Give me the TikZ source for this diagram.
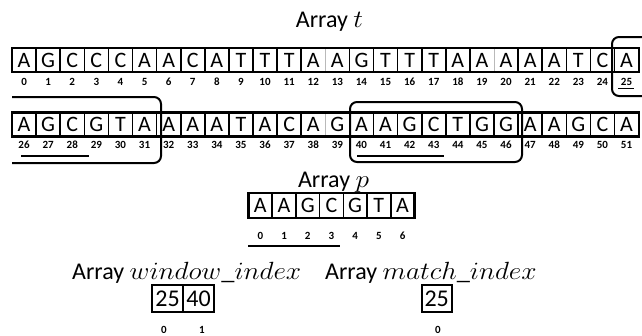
\documentclass[tikz,border=0pt]{standalone}
\usepackage{graphicx}
\usepackage{fontspec}
\setmainfont{Carlito}[Numbers=Lining]
\usetikzlibrary{calc}
\newcommand{\mvar}[1]{\scalebox{1.1}[1]{$#1$}}
\begin{document}
\begin{tikzpicture}[x=1pt,y=-1pt,
  cell/.style={draw,line width=1.6pt,minimum width=24.1pt,minimum height=24pt,inner sep=0pt,outer sep=0pt,font=\fontsize{22}{22}\selectfont},
  pcell/.style={cell,minimum width=23.7pt,minimum height=25pt},
  bcell/.style={cell,minimum width=31pt,minimum height=27pt,line width=1.8pt,font=\fontsize{24}{24}\selectfont},
  idx/.style={font=\fontsize{11}{11}\selectfont\bfseries,inner sep=0pt},
  title/.style={inner sep=0pt,anchor=base,font=\fontsize{24}{24}\selectfont},
  frame/.style={line width=2.2pt},
  win/.style={line width=2pt,rounded corners=7pt},
  uline/.style={line width=1.4pt},
  graysep/.style={gray!55,line width=0.7pt}]
\useasboundingbox (0,0) rectangle (642,335);

% titles
\node[title] (tt) at (329.5,27) {Array \mvar{t}};
\node[title] (tp) at (333.5,187) {Array \mvar{p}};
\node[title,anchor=base west] (tw) at (72,279) {Array \mvar{window\_index}};
\node[title,anchor=base west] (tm) at (325,279) {Array \mvar{match\_index}};

% row 1
\foreach \c [count=\i from 0] in {A,G,C,C,C,A,A,C,A,T,T,T,A,A,G,T,T,T,A,A,A,A,A,T,C,A} {
  \node[cell] (t\i) at ({12+24.1*(\i+0.5)},60) {\c};
  \node[idx] (ti\i) at ({12+24.1*(\i+0.5)},81.5) {\i};
}
% row 2
\foreach \c [count=\i from 26] in {A,G,C,G,T,A,A,A,A,T,A,C,A,G,A,A,G,C,T,G,G,A,A,G,C,A} {
  \node[cell] (t\i) at ({12+24.1*(\i-26+0.5)},124.5) {\c};
  \node[idx] (ti\i) at ({12+24.1*(\i-26+0.5)},145) {\i};
}
% lighter separators
\foreach \a/\b in {12/13,19/20,38/39} {
  \draw[white,line width=1.8pt] ($(t\a.north east)+(0,1.2)$) -- ($(t\a.south east)+(0,-1.2)$);
  \draw[graysep] ($(t\a.north east)+(0,1.2)$) -- ($(t\a.south east)+(0,-1.2)$);
}
\draw[frame] (t0.north west) rectangle (t25.south east);
\draw[frame] (t26.north west) rectangle (t51.south east);

% windows
\draw[win] (650,37) -- (612,37) -- (612,96) -- (650,96);
\draw[win] (12,97) -- (161,97) -- (161,163) -- (12,163);
\draw[win] (350,102) rectangle (522,162);

% underlines
\draw[line width=1pt] (618,88.5) -- (634,88.5);
\draw[uline] (21,156) -- (89,156);
\draw[uline] (357,156) -- (444,156);

% array p
\foreach \c [count=\i from 0] in {A,A,G,C,G,T,A} {
  \node[pcell] (p\i) at ({248.5+23.7*(\i+0.5)},205.5) {\c};
  \node[idx] (pi\i) at ({248.5+23.7*(\i+0.5)},236) {\i};
}
\draw[frame] (p0.north west) rectangle (p6.south east);
\draw[uline] (248,246) -- (340,246);

% window_index
\node[bcell] (w0) at (167.5,298.5) {25};
\node[bcell] (w1) at (198.5,298.5) {40};
\draw[frame] (w0.north west) rectangle (w1.south east);
\node[idx] (wi0) at (164,329.5) {0};
\node[idx] (wi1) at (202,329.5) {1};

% match_index
\node[bcell,minimum width=30pt] (m0) at (436.7,298.5) {25};
\draw[frame] (m0.north west) rectangle (m0.south east);
\node[idx] (mi0) at (438,329.5) {0};
\end{tikzpicture}
\end{document}
